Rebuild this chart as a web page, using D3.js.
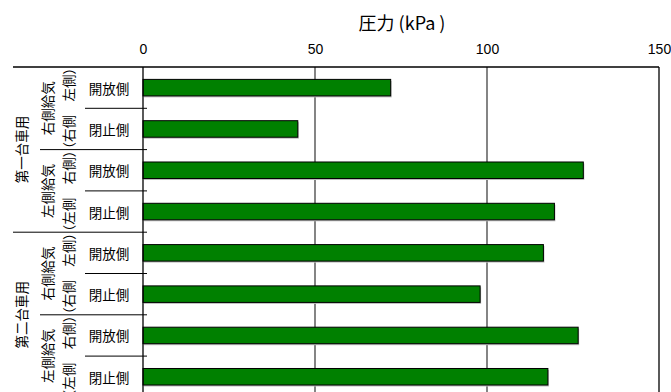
<!DOCTYPE html>
<html>
<head>
<meta charset="utf-8">
<script src="https://cdn.jsdelivr.net/npm/d3@7"></script>
<style>
  html, body { margin: 0; padding: 0; background: #fff; }
  svg { display: block; }
  .cjk { font-family: "Noto Sans CJK JP", "Noto Sans", sans-serif; }
  .lat { font-family: "Liberation Sans", Arial, sans-serif; }
</style>
</head>
<body>
<svg id="chart" width="671" height="392"></svg>
<script>
// Hierarchical categories: vehicle → supply side → valve position
const vehicles = ["第一台車用", "第二台車用"];
const supplySides = ["右側給気", "左側給気"];
const supplyNotes = ["（右側　左側）", "（左側　右側）"];
const valveStates = ["開放側", "閉止側"];
// Pressure for each leaf row, in order (kPa)
const pressure = [72, 45, 128, 119.6, 116.4, 98, 126.5, 117.7];
const xTicks = [0, 50, 100, 150];
const axisTitle = "圧力 (kPa )";

const rows = [];
vehicles.forEach((v, vi) => supplySides.forEach((s, si) => valveStates.forEach((st, ki) => {
  rows.push({ id: `${vi}-${si}-${ki}`, vi, si, ki, vehicle: v, side: s, state: st,
              value: pressure[rows.length] });
})));

const svg = d3.select("#chart");
const plot = { left: 143, right: 659, top: 67, step: 41.3 };
plot.bottom = plot.top + plot.step * rows.length;

const x = d3.scaleLinear().domain([0, 150]).range([plot.left, plot.right]);
const y = d3.scaleBand().domain(rows.map(r => r.id))
  .range([plot.top, plot.bottom]).paddingInner(0.6).paddingOuter(0.3);

// Axis title
svg.append("text").attr("class", "cjk")
  .attr("x", (plot.left + plot.right) / 2 + 1).attr("y", 30)
  .attr("text-anchor", "middle").attr("font-size", 18).attr("fill", "#000")
  .text(axisTitle);

// Top value axis labels
const xAxis = d3.axisTop(x).tickValues(xTicks).tickSize(0).tickPadding(13);
const gx = svg.append("g").attr("transform", `translate(0,${plot.top})`).call(xAxis);
gx.select(".domain").remove();
gx.selectAll("text").attr("class", "lat").attr("font-size", 14).attr("fill", "#000");

// Vertical gridlines
svg.append("g").selectAll("line").data(xTicks.filter(t => t > 0 && t < 150)).join("line")
  .attr("x1", d => x(d)).attr("x2", d => x(d))
  .attr("y1", plot.top).attr("y2", plot.bottom)
  .attr("stroke", "#333").attr("stroke-width", 1.2);

// Bars with a faint drop shadow
const bars = svg.append("g");
bars.selectAll("rect.shadow").data(rows).join("rect").attr("class", "shadow")
  .attr("x", x(0) + 1).attr("y", d => y(d.id) + 1.5)
  .attr("width", d => x(d.value) - x(0)).attr("height", y.bandwidth())
  .attr("fill", "#bdbdbd");
bars.selectAll("rect.bar").data(rows).join("rect").attr("class", "bar")
  .attr("x", x(0)).attr("y", d => y(d.id))
  .attr("width", d => x(d.value) - x(0)).attr("height", y.bandwidth())
  .attr("fill", "#008000").attr("stroke", "#000").attr("stroke-width", 1);

// Plot frame: top edge (extended over the category area), right edge, left axis
const frame = svg.append("g").attr("stroke", "#000").attr("stroke-width", 1.3);
frame.append("line").attr("x1", 13).attr("x2", plot.right).attr("y1", plot.top).attr("y2", plot.top);
frame.append("line").attr("x1", plot.right).attr("x2", plot.right).attr("y1", plot.top).attr("y2", plot.bottom);
frame.append("line").attr("x1", plot.left).attr("x2", plot.left).attr("y1", plot.top).attr("y2", plot.bottom);

// Category separators: leaf, supply-side group, vehicle group
const sepEnd = plot.left + 4;
const bandEdge = i => plot.top + plot.step * i;
const seps = [];
for (let i = 1; i < rows.length; i++) {
  const startX = i % 4 === 0 ? 13 : (i % 2 === 0 ? 40 : 85);
  seps.push({ yv: bandEdge(i), x0: startX });
}
svg.append("g").selectAll("line").data(seps).join("line")
  .attr("x1", d => d.x0).attr("x2", sepEnd)
  .attr("y1", d => d.yv).attr("y2", d => d.yv)
  .attr("stroke", "#000").attr("stroke-width", 1);

// Leaf labels (valve state)
svg.append("g").selectAll("text").data(rows).join("text").attr("class", "cjk")
  .attr("x", 109).attr("y", d => y(d.id) + y.bandwidth() / 2)
  .attr("text-anchor", "middle").attr("dominant-baseline", "central")
  .attr("font-size", 13.5).attr("fill", "#000")
  .text(d => d.state);

// Supply-side labels, two rotated lines
const sideGroups = rows.filter(r => r.ki === 0).map(r => ({
  side: r.side, note: supplyNotes[r.si],
  cy: bandEdge(rows.indexOf(r) + 1)
}));
const sg = svg.append("g").attr("class", "cjk").attr("font-size", 13.5).attr("fill", "#000");
sideGroups.forEach(g => {
  sg.append("text").attr("transform", `translate(47,${g.cy}) rotate(-90)`)
    .attr("text-anchor", "middle").attr("dominant-baseline", "central").text(g.side);
  sg.append("text").attr("transform", `translate(68,${g.cy}) rotate(-90)`)
    .attr("text-anchor", "middle").attr("dominant-baseline", "central").text(g.note);
});

// Vehicle labels
const vehGroups = rows.filter(r => r.si === 0 && r.ki === 0).map(r => ({
  name: r.vehicle, cy: bandEdge(rows.indexOf(r) + 2)
}));
svg.append("g").selectAll("text").data(vehGroups).join("text").attr("class", "cjk")
  .attr("transform", d => `translate(21,${d.cy}) rotate(-90)`)
  .attr("text-anchor", "middle").attr("dominant-baseline", "central")
  .attr("font-size", 13.5).attr("fill", "#000")
  .text(d => d.name);
</script>
</body>
</html>
